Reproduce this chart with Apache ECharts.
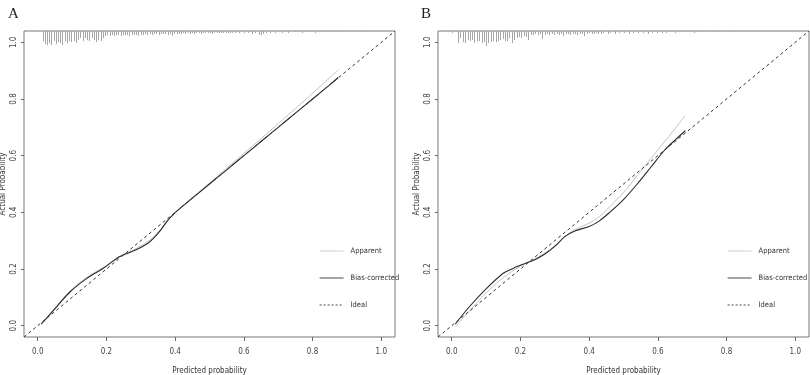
<!DOCTYPE html>
<html><head><meta charset="utf-8">
<script src="https://cdn.jsdelivr.net/npm/echarts@6/dist/echarts.min.js"></script>
<style>html,body{margin:0;padding:0;background:#fff}#c{width:810px;height:375px}</style>
</head><body><div id="c"></div>
<script>
// ---- data ----
const tickValues = [0, 0.2, 0.4, 0.6, 0.8, 1.0];
const idealX = [-0.04, 1.04];
const legendNames = ['Apparent', 'Bias-corrected', 'Ideal'];

// Panel A
const apparentAX = [0.01,0.045,0.093,0.142,0.19,0.239,0.283,0.322,0.346,0.362,0.378,0.395,0.42,0.45,0.5,0.55,0.6,0.65,0.7,0.75,0.8,0.85,0.875];
const apparentAY = [0.006,0.055,0.121,0.17,0.205,0.245,0.27,0.298,0.324,0.346,0.372,0.394,0.42,0.452,0.503,0.556,0.608,0.66,0.713,0.766,0.82,0.875,0.903];
const biasAX = [0.01,0.045,0.093,0.142,0.19,0.239,0.283,0.322,0.346,0.362,0.378,0.395,0.42,0.45,0.5,0.55,0.6,0.65,0.7,0.75,0.8,0.85,0.875];
const biasAY = [0.005,0.053,0.118,0.166,0.202,0.244,0.266,0.292,0.32,0.344,0.371,0.393,0.42,0.45,0.5,0.55,0.6,0.65,0.7,0.75,0.8,0.85,0.876];
const rugAX = [0.014,0.020,0.027,0.033,0.040,0.046,0.053,0.059,0.066,0.072,0.079,0.085,0.092,0.098,0.105,0.111,0.118,0.124,0.131,0.137,0.144,0.150,0.157,0.163,0.170,0.176,0.183,0.189,0.196,0.202,0.209,0.215,0.222,0.228,0.235,0.241,0.248,0.254,0.261,0.267,0.274,0.280,0.287,0.293,0.300,0.306,0.313,0.319,0.326,0.332,0.339,0.345,0.352,0.358,0.365,0.371,0.378,0.384,0.391,0.397,0.404,0.410,0.417,0.423,0.430,0.436,0.443,0.449,0.456,0.462,0.469,0.475,0.482,0.488,0.495,0.501,0.508,0.514,0.521,0.527,0.534,0.540,0.547,0.553,0.560,0.566,0.573,0.586,0.599,0.612,0.625,0.631,0.644,0.651,0.657,0.664,0.677,0.690,0.710,0.729,0.749,0.768,0.788,0.807,0.826,0.846,0.885,0.956];
const rugAN = [10,13,14,12,14,10,13,11,12,14,10,12,10,11,10,12,9,7,10,7,9,10,7,9,11,9,10,7,5,4,5,4,5,4,4,5,4,4,4,5,4,4,4,5,4,4,3,4,3,4,3,3,4,3,3,3,4,3,5,3,3,3,3,2,3,2,3,2,3,2,2,3,2,2,2,2,3,2,2,2,2,2,2,2,2,2,2,2,2,2,3,2,4,4,3,2,2,2,2,2,1,2,1,2,1,1,1,1];

// Panel B
const apparentBX = [0.01,0.05,0.1,0.15,0.2,0.23,0.27,0.3,0.33,0.36,0.4,0.43,0.46,0.5,0.54,0.58,0.62,0.65,0.68];
const apparentBY = [-0.005,0.05,0.115,0.17,0.21,0.228,0.255,0.282,0.315,0.34,0.362,0.385,0.42,0.47,0.53,0.59,0.65,0.695,0.742];
const biasBX = [0.01,0.05,0.1,0.15,0.18,0.21,0.24,0.27,0.3,0.33,0.36,0.4,0.43,0.46,0.5,0.54,0.58,0.62,0.65,0.68];
const biasBY = [0.005,0.065,0.13,0.185,0.203,0.218,0.232,0.252,0.28,0.315,0.335,0.35,0.37,0.4,0.445,0.5,0.56,0.62,0.655,0.688];
const rugBX = [0.001,0.018,0.025,0.033,0.040,0.046,0.053,0.059,0.066,0.073,0.080,0.087,0.093,0.100,0.107,0.114,0.121,0.128,0.134,0.141,0.148,0.155,0.162,0.168,0.175,0.182,0.189,0.196,0.203,0.209,0.216,0.223,0.230,0.237,0.243,0.250,0.257,0.264,0.271,0.277,0.284,0.291,0.298,0.305,0.311,0.318,0.325,0.332,0.339,0.345,0.352,0.359,0.366,0.373,0.379,0.386,0.393,0.400,0.407,0.413,0.420,0.427,0.434,0.441,0.454,0.461,0.475,0.488,0.502,0.515,0.529,0.543,0.556,0.570,0.583,0.597,0.611,0.624,0.651,0.678,0.705,0.732,0.760,0.814];
const rugBN = [2,12,7,11,12,9,10,9,12,10,10,12,11,15,12,11,10,11,10,9,8,10,10,7,12,9,7,6,7,5,6,9,4,4,3,4,3,8,4,3,4,3,4,3,4,3,5,3,3,4,3,3,4,3,3,5,3,2,3,3,2,3,3,2,3,2,3,2,2,3,2,2,2,3,2,2,2,2,2,1,2,1,1,1];

// ---- chart ----
const AX_MIN = -0.04, AX_MAX = 1.04;
const spikeScale = 1 / 282;   // count -> data units of spike length
const FONT = "'Liberation Sans Narrow', 'DejaVu Sans Condensed', 'Liberation Sans'";
const FS = 8;
const zip = (xs, ys) => xs.map((x, i) => [x, ys[i]]);

function rugRender(params, api) {
  const x = api.value(0), n = api.value(1);
  const p1 = api.coord([x, AX_MAX]);
  const p2 = api.coord([x, AX_MAX - n * spikeScale]);
  const px = Math.round(p1[0]) + 0.5;
  return { type: 'line', shape: { x1: px, y1: p1[1], x2: px, y2: p2[1] },
           style: { stroke: '#a6a6a6', lineWidth: 1 } };
}

function makeX(idx) {
  return {
    type: 'value', gridIndex: idx, min: AX_MIN, max: AX_MAX,
    name: 'Predicted probability', nameLocation: 'middle', nameGap: 30,
    nameTextStyle: { fontFamily: FONT, fontSize: FS, color: '#333' },
    axisLine: { show: false, onZero: false },
    axisTick: { show: true, length: 4, customValues: tickValues, lineStyle: { color: '#666' } },
    axisLabel: { customValues: tickValues, fontFamily: FONT, fontSize: FS, color: '#444', margin: 11,
                 formatter: v => v.toFixed(1) },
    splitLine: { show: false }
  };
}
function makeY(idx) {
  return {
    type: 'value', gridIndex: idx, min: AX_MIN, max: AX_MAX,
    name: 'Actual Probability', nameLocation: 'middle', nameGap: 17,
    nameTextStyle: { fontFamily: FONT, fontSize: FS, color: '#333' },
    axisLine: { show: false, onZero: false },
    axisTick: { show: true, length: 3, customValues: tickValues, lineStyle: { color: '#666' } },
    axisLabel: { customValues: tickValues, rotate: 90, fontFamily: FONT, fontSize: FS, color: '#444', margin: 6,
                 formatter: v => v.toFixed(1) },
    splitLine: { show: false }
  };
}
function panelSeries(idx, appX, appY, biasX, biasY, rugX, rugN) {
  return [
    { type: 'custom', xAxisIndex: idx, yAxisIndex: idx, renderItem: rugRender, data: zip(rugX, rugN), silent: true, clip: false },
    { name: 'Apparent', type: 'line', xAxisIndex: idx, yAxisIndex: idx, data: zip(appX, appY), symbol: 'none',
      smooth: 0.3, lineStyle: { color: '#c4c4c4', width: 1 }, itemStyle: { color: '#c4c4c4' } },
    { name: 'Bias-corrected', type: 'line', xAxisIndex: idx, yAxisIndex: idx, data: zip(biasX, biasY), symbol: 'none',
      smooth: 0.3, lineStyle: { color: '#2a2a2a', width: 1.1 }, itemStyle: { color: '#555' } },
    { name: 'Ideal', type: 'line', xAxisIndex: idx, yAxisIndex: idx, data: zip(idealX, idealX), symbol: 'none',
      lineStyle: { color: '#333', width: 1, type: [3, 3] }, itemStyle: { color: '#333' } }
  ];
}
function makeLegend(left) {
  return { data: [
             { name: legendNames[0], lineStyle: { color: '#cfcfcf', width: 1 } },
             { name: legendNames[1], lineStyle: { color: '#6a6a6a', width: 1.2 } },
             { name: legendNames[2], lineStyle: { color: '#444', width: 1, type: [2, 2] } }
           ],
           orient: 'vertical', left: left, top: 242, itemWidth: 24, itemHeight: 10,
           itemGap: 19, selectedMode: false,
           itemStyle: { color: 'transparent', borderColor: 'transparent', borderWidth: 0, opacity: 0 },
           textStyle: { fontFamily: FONT, fontSize: 7.5, color: '#333', padding: [0, 0, 0, 2] } };
}

const chart = echarts.init(document.getElementById('c'), null, { renderer: 'canvas' });
chart.setOption({
  animation: false,
  backgroundColor: '#fff',
  title: [
    { text: 'A', left: 3, top: 2, textStyle: { fontFamily: 'Liberation Serif', fontSize: 15, fontWeight: 'normal', color: '#222' } },
    { text: 'B', left: 416, top: 2, textStyle: { fontFamily: 'Liberation Serif', fontSize: 15, fontWeight: 'normal', color: '#222' } }
  ],
  grid: [
    { left: 24, top: 31, width: 371, height: 306, show: true, borderColor: '#777', borderWidth: 1, backgroundColor: 'transparent', outerBoundsMode: 'none', containLabel: false },
    { left: 438, top: 31, width: 371, height: 306, show: true, borderColor: '#777', borderWidth: 1, backgroundColor: 'transparent', outerBoundsMode: 'none', containLabel: false }
  ],
  xAxis: [makeX(0), makeX(1)],
  yAxis: [makeY(0), makeY(1)],
  legend: [makeLegend(314), makeLegend(722)],
  series: [
    ...panelSeries(0, apparentAX, apparentAY, biasAX, biasAY, rugAX, rugAN),
    ...panelSeries(1, apparentBX, apparentBY, biasBX, biasBY, rugBX, rugBN)
  ]
});
</script></body></html>
